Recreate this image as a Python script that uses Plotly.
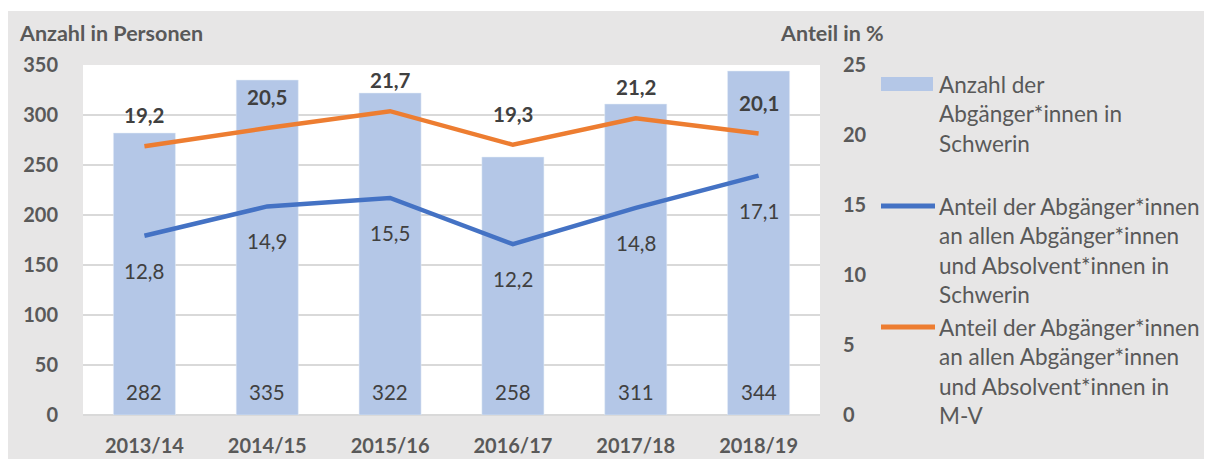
import plotly.graph_objects as go

# ---------------- data ----------------
categories = ["2013/14", "2014/15", "2015/16", "2016/17", "2017/18", "2018/19"]
anzahl_schwerin = [282, 335, 322, 258, 311, 344]
anteil_schwerin = [12.8, 14.9, 15.5, 12.2, 14.8, 17.1]
anteil_mv = [19.2, 20.5, 21.7, 19.3, 21.2, 20.1]
left_ticks = [0, 50, 100, 150, 200, 250, 300, 350]
right_ticks = [0, 5, 10, 15, 20, 25]
legend_bar = ["Anzahl der", "Abgänger*innen in", "Schwerin"]
legend_blue = ["Anteil der Abgänger*innen", "an allen Abgänger*innen",
               "und Absolvent*innen in", "Schwerin"]
legend_orange = ["Anteil der Abgänger*innen", "an allen Abgänger*innen",
                 "und Absolvent*innen in", "M-V"]
title_left = "Anzahl in Personen"
title_right = "Anteil in %"

def de(v):
    return f"{v:.1f}".replace(".", ",")

# ---------------- style ----------------
FONT = "Lato"
BG = "#e7e6e6"
GRID = "#d9d9d9"
BAR = "#b4c7e7"
BLUE = "#4472c4"
ORANGE = "#ed7d31"
TICK = "#595959"
LABEL = "#404040"

W, H = 1204, 451
ML, MR, MT, MB = 75, 392, 57, 44
PW, PH = W - ML - MR, H - MT - MB
OFF = 8  # body margin of the page


def px(x):
    return (x - OFF - ML) / PW


def py(y):
    return (H - MB - (y - OFF)) / PH


fig = go.Figure()
fig.add_trace(go.Bar(x=categories, y=anzahl_schwerin, marker_color=BAR,
                     name=" ".join(legend_bar), yaxis="y", showlegend=False,
                     hoverinfo="x+y"))
fig.add_trace(go.Scatter(x=categories, y=anteil_schwerin, mode="lines",
                         line=dict(color=BLUE, width=4.5), yaxis="y2",
                         name=" ".join(legend_blue), showlegend=False))
fig.add_trace(go.Scatter(x=categories, y=anteil_mv, mode="lines",
                         line=dict(color=ORANGE, width=4.5), yaxis="y2",
                         name=" ".join(legend_orange), showlegend=False))

ann = []
for c, v in zip(categories, anzahl_schwerin):
    ann.append(dict(x=c, y=0, xref="x", yref="y", text=str(v), showarrow=False,
                    yshift=23, font=dict(family=FONT, size=20.5, color=LABEL)))
for c, v in zip(categories, anteil_schwerin):
    ann.append(dict(x=c, y=v, xref="x", yref="y2", text=de(v), showarrow=False,
                    yshift=-35, font=dict(family=FONT, size=20.5, color=LABEL)))
for c, v in zip(categories, anteil_mv):
    ann.append(dict(x=c, y=v, xref="x", yref="y2", text=de(v), showarrow=False,
                    yshift=31, font=dict(family=FONT, size=20.5, color=LABEL, weight="bold")))

# axis titles
ann.append(dict(x=px(17), y=py(33), xref="paper", yref="paper", text=title_left,
                showarrow=False, xanchor="left", yanchor="middle",
                font=dict(family=FONT, size=21.5, color=TICK, weight="bold")))
ann.append(dict(x=px(778), y=py(33), xref="paper", yref="paper", text=title_right,
                showarrow=False, xanchor="left", yanchor="middle",
                font=dict(family=FONT, size=21.5, color=TICK, weight="bold")))

# manual legend
shapes = []
shapes.append(dict(type="rect", xref="paper", yref="paper", x0=px(881), x1=px(933),
                   y0=py(91), y1=py(77), fillcolor=BAR, line=dict(width=0)))
shapes.append(dict(type="line", xref="paper", yref="paper", x0=px(881), x1=px(935),
                   y0=py(206), y1=py(206), line=dict(color=BLUE, width=5)))
shapes.append(dict(type="line", xref="paper", yref="paper", x0=px(881), x1=px(935),
                   y0=py(327), y1=py(327), line=dict(color=ORANGE, width=5)))
# white band at top of page
shapes.append(dict(type="rect", xref="paper", yref="paper", x0=px(0), x1=px(1220),
                   y0=py(11), y1=py(0), fillcolor="white", line=dict(width=0)))

for lines, y0, step in ((legend_bar, 84, 29.5), (legend_blue, 206.5, 29.3),
                        (legend_orange, 327, 29.5)):
    for i, t in enumerate(lines):
        ann.append(dict(x=px(937), y=py(y0 + i * step), xref="paper", yref="paper",
                        text=t, showarrow=False, xanchor="left", yanchor="middle",
                        font=dict(family=FONT, size=22.5, color=TICK)))

fig.update_layout(
    width=W, height=H,
    margin=dict(l=ML, r=MR, t=MT, b=MB, pad=0, autoexpand=False),
    paper_bgcolor=BG, plot_bgcolor="white",
    bargap=0.495,
    font=dict(family=FONT, color=TICK),
    xaxis=dict(type="category", showgrid=False, showline=False, ticks="",
               automargin=False,
               tickfont=dict(family=FONT, size=20, color=TICK, weight="bold"),
               ticklabelstandoff=17),
    yaxis=dict(range=[0, 350], tickvals=left_ticks, showgrid=True, gridcolor=GRID,
               gridwidth=1.5, zeroline=True, zerolinecolor=GRID, zerolinewidth=1.5,
               showline=False, ticks="", ticklabelstandoff=24, automargin=False,
               tickfont=dict(family=FONT, size=20, color=TICK, weight="bold")),
    yaxis2=dict(range=[0, 25], tickvals=right_ticks, overlaying="y", side="right",
                showgrid=False, zeroline=False, showline=False, ticks="",
                ticklabelstandoff=22, automargin=False,
                tickfont=dict(family=FONT, size=20, color=TICK, weight="bold")),
    annotations=ann, shapes=shapes, showlegend=False,
)

fig.write_html("out.html")
